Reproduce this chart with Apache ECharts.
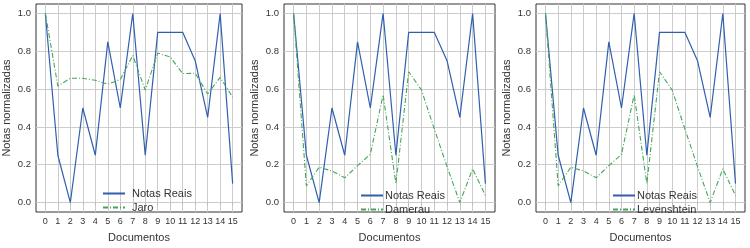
<!DOCTYPE html>
<html>
<head>
<meta charset="utf-8">
<script src="https://cdn.jsdelivr.net/npm/echarts@6/dist/echarts.min.js"></script>
<style>
html,body{margin:0;padding:0;background:#fff;}
#chart{width:750px;height:248px;}
</style>
</head>
<body>
<div id="chart"></div>
<script>
var docs = [0,1,2,3,4,5,6,7,8,9,10,11,12,13,14,15];
var notasReais = [1.0,0.25,0.0,0.5,0.25,0.85,0.5,1.0,0.25,0.9,0.9,0.9,0.75,0.45,1.0,0.1];
var jaro = [1.0,0.616,0.657,0.657,0.647,0.626,0.651,0.778,0.595,0.79,0.77,0.682,0.684,0.574,0.662,0.557];
var damerau = [1.0,0.088,0.187,0.167,0.131,0.195,0.255,0.57,0.1,0.692,0.595,0.39,0.19,0.0,0.178,0.037];
var levenshtein = [1.0,0.088,0.187,0.167,0.131,0.195,0.255,0.57,0.1,0.692,0.595,0.39,0.19,0.0,0.178,0.037];
var yTicks = [0,0.2,0.4,0.6,0.8,1.0];
var metodos = ['Jaro','Damerau','Levenshtein'];

var azul = '#2f5fae', verde = '#45a55a';
var fonte = 'Liberation Sans, Arial, sans-serif';

function pares(vals){
	var out = [];
	for (var i = 0; i < docs.length; i++) out.push([docs[i], vals[i]]);
	return out;
}

var myChart = echarts.init(document.getElementById('chart'));

var grids = [
	{left:33, width:209, top:4, height:216},
	{left:284, width:211, top:4, height:216},
	{left:536, width:209, top:4, height:216}
];
// posicao das legendas e folga entre linha e texto
var legendPos = [
	{left:97, top:183, pad:2},
	{left:355, top:185, pad:-3},
	{left:607, top:185, pad:-3}
];
var outras = [jaro, damerau, levenshtein];

var xAxes = [], yAxes = [], series = [], legends = [];
for (var k = 0; k < 3; k++) {
	grids[k].show = true;
	grids[k].borderColor = '#333';
	grids[k].borderWidth = 1;
	xAxes.push({
		type:'value', gridIndex:k, min:-0.75, max:15.75,
		name:'Documentos', nameLocation:'middle', nameGap:20,
		nameTextStyle:{color:'#333', fontSize:11, fontFamily:fonte},
		axisLine:{show:false},
		axisTick:{show:true, length:3, lineStyle:{color:'#bbb'}, customValues:docs},
		axisLabel:{color:'#333', fontSize:9, fontFamily:fonte, margin:5, customValues:docs},
		splitLine:{show:true, lineStyle:{color:'#cccccc', width:1}}
	});
	yAxes.push({
		type:'value', gridIndex:k, min:-0.05, max:1.05,
		name:'Notas normalizadas', nameLocation:'middle', nameGap:24,
		nameTextStyle:{color:'#333', fontSize:11, fontFamily:fonte},
		axisLine:{show:false},
		axisTick:{show:false, customValues:yTicks},
		axisLabel:{color:'#333', fontSize:9.5, fontFamily:fonte, margin:5, customValues:yTicks,
			formatter:function(v){ return v.toFixed(1); }},
		splitLine:{show:true, lineStyle:{color:'#cccccc', width:1}}
	});
	series.push({
		name:'Notas Reais', type:'line', xAxisIndex:k, yAxisIndex:k,
		data:pares(notasReais), symbol:'none',
		lineStyle:{color:azul, width:1.2}, itemStyle:{color:azul}
	});
	series.push({
		name:metodos[k], type:'line', xAxisIndex:k, yAxisIndex:k,
		data:pares(outras[k]), symbol:'none',
		lineStyle:{color:verde, width:1.1, type:[5,2,1,2]}, itemStyle:{color:verde}
	});
	legends.push({
		show:true, left:legendPos[k].left, top:legendPos[k].top, orient:'vertical',
		data:['Notas Reais', metodos[k]], itemWidth:22, itemHeight:8, itemGap:3,
		selectedMode:false, itemStyle:{opacity:0},
		textStyle:{color:'#333', fontSize:11, fontFamily:fonte, padding:[0,0,0,legendPos[k].pad]}
	});
}

myChart.setOption({
	animation:false,
	grid:grids,
	xAxis:xAxes,
	yAxis:yAxes,
	legend:legends,
	series:series
});
</script>
</body>
</html>
